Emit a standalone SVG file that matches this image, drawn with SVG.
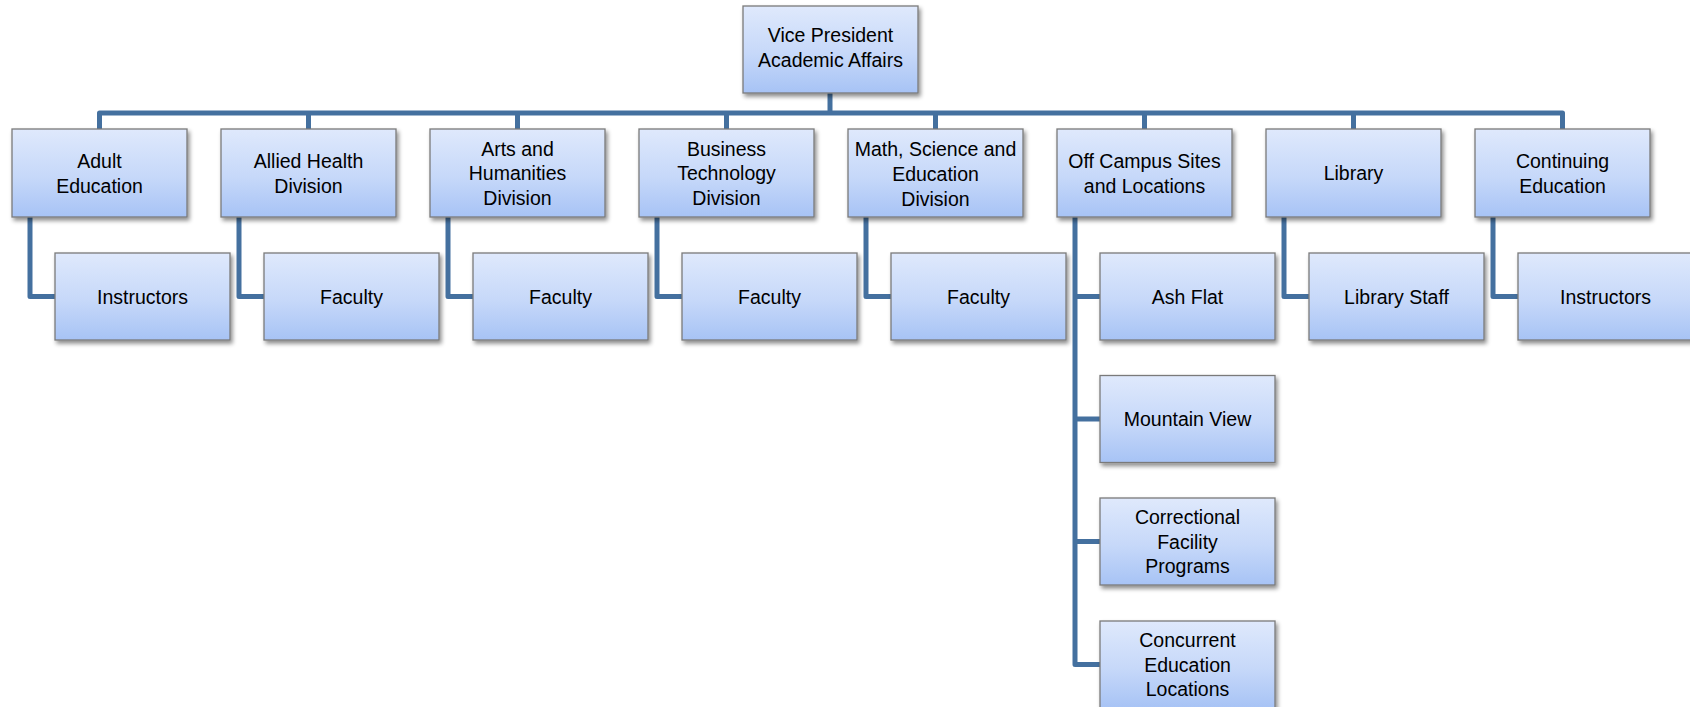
<svg xmlns="http://www.w3.org/2000/svg" width="1690" height="707" viewBox="0 0 1690 707">
<defs>
<linearGradient id="g" x1="0" y1="0" x2="0" y2="1">
<stop offset="0" stop-color="#dfe9fc"/>
<stop offset="0.55" stop-color="#c6d8f9"/>
<stop offset="1" stop-color="#a7c3f5"/>
</linearGradient>
<filter id="sh" x="-10%" y="-10%" width="125%" height="130%">
<feDropShadow dx="2" dy="3" stdDeviation="2" flood-color="#000" flood-opacity="0.45"/>
</filter>
<style>
.box{fill:url(#g);stroke:#7a7a7a;stroke-width:1.3;filter:url(#sh)}
.t{font-family:"Liberation Sans",Arial,sans-serif;font-size:19.5px;fill:#000;text-anchor:middle}
.c{fill:none;stroke:#44709f;stroke-width:5;stroke-linejoin:round;stroke-linecap:butt}
</style>
</defs>
<rect width="1690" height="707" fill="#fff"/>
<g id="connectors" class="c">
<path d="M830,93 V113"/>
<path d="M99.5,129 V113 H1562.5 V129"/>
<path d="M308.5,113 V129 M517.5,113 V129 M726.5,113 V129 M935.5,113 V129 M1144.5,113 V129 M1353.5,113 V129"/>
<path d="M30,217 V296.5 H55"/>
<path d="M239,217 V296.5 H264"/>
<path d="M448,217 V296.5 H473"/>
<path d="M657,217 V296.5 H682"/>
<path d="M866,217 V296.5 H891"/>
<path d="M1075,217 V664.5 H1100"/>
<path d="M1075,296.5 H1100 M1075,419 H1100 M1075,541.5 H1100"/>
<path d="M1284,217 V296.5 H1309"/>
<path d="M1493,217 V296.5 H1518"/>
</g>
<g id="vp"><rect class="box" x="743" y="6" width="175" height="87"/><text class="t" x="830.5"><tspan x="830.5" y="42">Vice President</tspan><tspan x="830.5" y="66.5">Academic Affairs</tspan></text></g>
<g id="adult"><rect class="box" x="12" y="129" width="175" height="88"/><text class="t"><tspan x="99.5" y="168">Adult</tspan><tspan x="99.5" y="192.5">Education</tspan></text></g>
<g id="allied"><rect class="box" x="221" y="129" width="175" height="88"/><text class="t"><tspan x="308.5" y="168">Allied Health</tspan><tspan x="308.5" y="192.5">Division</tspan></text></g>
<g id="arts"><rect class="box" x="430" y="129" width="175" height="88"/><text class="t"><tspan x="517.5" y="155.5">Arts and</tspan><tspan x="517.5" y="180">Humanities</tspan><tspan x="517.5" y="204.5">Division</tspan></text></g>
<g id="business"><rect class="box" x="639" y="129" width="175" height="88"/><text class="t"><tspan x="726.5" y="155.5">Business</tspan><tspan x="726.5" y="180">Technology</tspan><tspan x="726.5" y="204.5">Division</tspan></text></g>
<g id="math"><rect class="box" x="848" y="129" width="175" height="88"/><text class="t"><tspan x="935.5" y="155.5">Math, Science and</tspan><tspan x="935.5" y="180.5">Education</tspan><tspan x="935.5" y="205.5">Division</tspan></text></g>
<g id="offcampus"><rect class="box" x="1057" y="129" width="175" height="88"/><text class="t"><tspan x="1144.5" y="168">Off Campus Sites</tspan><tspan x="1144.5" y="192.5">and Locations</tspan></text></g>
<g id="library"><rect class="box" x="1266" y="129" width="175" height="88"/><text class="t" x="1353.5" y="180">Library</text></g>
<g id="continuing"><rect class="box" x="1475" y="129" width="175" height="88"/><text class="t"><tspan x="1562.5" y="168">Continuing</tspan><tspan x="1562.5" y="192.5">Education</tspan></text></g>
<g id="adult-instructors"><rect class="box" x="55" y="253" width="175" height="87"/><text class="t" x="142.5" y="303.5">Instructors</text></g>
<g id="allied-faculty"><rect class="box" x="264" y="253" width="175" height="87"/><text class="t" x="351.5" y="303.5">Faculty</text></g>
<g id="arts-faculty"><rect class="box" x="473" y="253" width="175" height="87"/><text class="t" x="560.5" y="303.5">Faculty</text></g>
<g id="business-faculty"><rect class="box" x="682" y="253" width="175" height="87"/><text class="t" x="769.5" y="303.5">Faculty</text></g>
<g id="math-faculty"><rect class="box" x="891" y="253" width="175" height="87"/><text class="t" x="978.5" y="303.5">Faculty</text></g>
<g id="ashflat"><rect class="box" x="1100" y="253" width="175" height="87"/><text class="t" x="1187.5" y="303.5">Ash Flat</text></g>
<g id="mountainview"><rect class="box" x="1100" y="375.5" width="175" height="87"/><text class="t" x="1187.5" y="426">Mountain View</text></g>
<g id="correctional"><rect class="box" x="1100" y="498" width="175" height="87"/><text class="t"><tspan x="1187.5" y="524">Correctional</tspan><tspan x="1187.5" y="548.5">Facility</tspan><tspan x="1187.5" y="573">Programs</tspan></text></g>
<g id="concurrent"><rect class="box" x="1100" y="621" width="175" height="87"/><text class="t"><tspan x="1187.5" y="647">Concurrent</tspan><tspan x="1187.5" y="671.5">Education</tspan><tspan x="1187.5" y="696">Locations</tspan></text></g>
<g id="library-staff"><rect class="box" x="1309" y="253" width="175" height="87"/><text class="t" x="1396.5" y="303.5">Library Staff</text></g>
<g id="continuing-instructors"><rect class="box" x="1518" y="253" width="175" height="87"/><text class="t" x="1605.5" y="303.5">Instructors</text></g>
</svg>
